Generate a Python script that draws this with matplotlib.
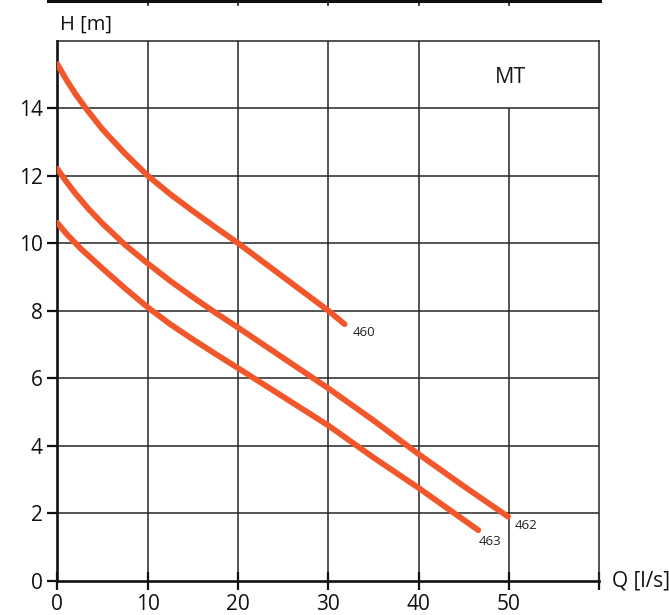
import matplotlib
matplotlib.use("Agg")
import matplotlib.pyplot as plt
from matplotlib.lines import Line2D
from matplotlib.ticker import NullLocator
import matplotlib.transforms as mtransforms

plt.rcParams['font.family'] = ['Open Sans', 'DejaVu Sans']

# ---- data ----
q_460 = [0, 1, 2, 3.25, 5, 7.5, 10, 12.5, 15, 17.5, 20, 22.5, 25, 27.5, 30, 31.8]
h_460 = [15.3, 14.84, 14.42, 13.96, 13.37, 12.65, 12.0, 11.45, 10.95, 10.47, 10.0, 9.5, 9.0, 8.5, 8.0, 7.6]

q_462 = [0, 1, 2, 3.5, 5, 7.5, 10, 12.5, 15, 17.5, 20, 25, 30, 35, 40, 45, 49.9]
h_462 = [12.2, 11.82, 11.47, 11.0, 10.58, 9.95, 9.4, 8.88, 8.4, 7.94, 7.5, 6.6, 5.7, 4.75, 3.75, 2.8, 1.9]

q_463 = [0, 1, 2.5, 5, 7.5, 10, 12.5, 15, 17.5, 20, 25, 30, 35, 40, 43, 46.6]
h_463 = [10.6, 10.28, 9.86, 9.25, 8.66, 8.1, 7.6, 7.15, 6.72, 6.3, 5.45, 4.6, 3.65, 2.75, 2.18, 1.5]

curve_names = ['460', '462', '463']
label_pos = {'460': (32.7, 7.36), '462': (50.6, 1.65), '463': (46.7, 1.16)}

x_ticks = [0, 10, 20, 30, 40, 50, 60]
x_ticklabels = ['0', '10', '20', '30', '40', '50', '']
y_ticks = [0, 2, 4, 6, 8, 10, 12, 14, 16]
y_ticklabels = ['0', '2', '4', '6', '8', '10', '12', '14', '']

title_text = 'MT'
x_label = 'Q [l/s]'
y_label = 'H [m]'

# ---- figure ----
W, H = 669, 615
fig = plt.figure(figsize=(W / 100, H / 100), dpi=100)
fig.patch.set_facecolor('white')
ax = fig.add_axes([57.3 / W, 1 - 580.8 / H, (599.3 - 57.3) / W, (580.8 - 40.5) / H])
ax.set_xlim(0, 60)
ax.set_ylim(0, 16)

gridc = '#262626'
for y in y_ticks[1:-1]:
    ax.plot([0, 60], [y, y], color=gridc, lw=1.1, zorder=1, solid_capstyle='butt')
for x in x_ticks[1:-1]:
    top = 14 if x == 50 else 16
    ax.plot([x, x], [0, top], color=gridc, lw=1.1, zorder=1, solid_capstyle='butt')

curve_color = '#f2572b'
for qs, hs in [(q_460, h_460), (q_462, h_462), (q_463, h_463)]:
    ax.plot(qs, hs, color=curve_color, lw=4.2, solid_capstyle='round',
            solid_joinstyle='round', zorder=3)

for name in curve_names:
    x, y = label_pos[name]
    ax.text(x, y, name, fontsize=9.5, color='#222222', ha='left', va='center', zorder=4)

ax.text(50.2, 14.9, title_text, fontsize=15.5, color='#1a1a1a', ha='center', va='center')

for s in ['top', 'right']:
    ax.spines[s].set_linewidth(1.1)
    ax.spines[s].set_color(gridc)
for s in ['left', 'bottom']:
    ax.spines[s].set_linewidth(1.9)
    ax.spines[s].set_color('#111111')

ax.set_xticks(x_ticks)
ax.set_xticklabels(x_ticklabels)
ax.set_yticks(y_ticks)
ax.set_yticklabels(y_ticklabels)
ax.xaxis.set_minor_locator(NullLocator())
ax.yaxis.set_minor_locator(NullLocator())
ax.tick_params(axis='x', direction='inout', length=13, width=1.6, pad=3,
               labelsize=15, colors='#111111')
ax.tick_params(axis='y', direction='out', length=7.5, width=1.6, pad=3,
               labelsize=15, colors='#111111')
ax.yaxis.get_major_ticks()[-1].tick1line.set_visible(False)

ax.text(61.4, 0, x_label, fontsize=15, ha='left', va='center', clip_on=False, color='#111111')
ax.text(0.3, 16.47, y_label, fontsize=14.5, ha='left', va='center', clip_on=False, color='#111111')

# fragment of the axis from the chart above (top edge of the picture)
top_y = 1 - 1.0 / H
fig.add_artist(Line2D([48 / W, 600 / W], [top_y, top_y], color='#111111', lw=2.2,
                      transform=fig.transFigure))
blend = mtransforms.blended_transform_factory(ax.transData, fig.transFigure)
for x in x_ticks[1:-1]:
    fig.add_artist(Line2D([x, x], [1, 1 - 5.0 / H], color='#111111', lw=1.2, transform=blend))

fig.savefig('out.png', dpi=100, facecolor='white')
